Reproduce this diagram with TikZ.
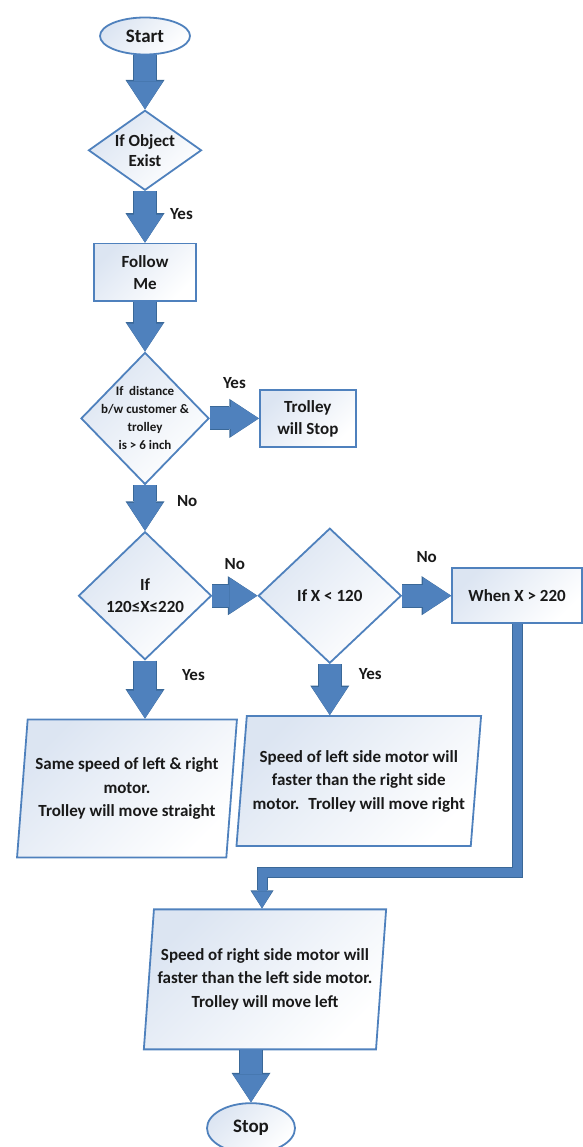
\documentclass[tikz,border=0pt]{standalone}
\usepackage{fontspec}
\setmainfont{Carlito}
\usetikzlibrary{arrows.meta,positioning,shapes.geometric}

\definecolor{edgeblue}{HTML}{4F81BD}
\definecolor{arrowblue}{HTML}{4F81BD}
\definecolor{arrowdark}{HTML}{3A6898}
\definecolor{shapefill}{HTML}{DCE5F2}

\begin{document}
\begin{tikzpicture}[
    x=1pt, y=-1pt,
    every node/.style={font=\fontsize{17}{22}\selectfont\bfseries, text=black!90},
    base/.style={draw=edgeblue, line width=1.8pt, top color=shapefill, bottom color=white, shading angle=45, align=center},
    term/.style={base, ellipse, inner sep=1pt, font=\fontsize{19}{22}\selectfont\bfseries},
    box/.style={base, rectangle, inner sep=2pt},
    decision/.style={base, diamond, inner sep=0pt},
    io/.style={base, trapezium, trapezium left angle=81, trapezium right angle=99, trapezium stretches=true, inner sep=0pt, font=\fontsize{17}{23.5}\selectfont\bfseries},
    dtext/.style={align=center, font=\fontsize{13}{18}\selectfont\bfseries},
    lbl/.style={inner sep=0pt},
    flow/.style={draw=arrowblue, line width=22pt, -{Triangle[length=28pt, width=36pt, line width=0pt]},
        preaction={draw=arrowdark, line width=24pt, -{Triangle[length=29.5pt, width=39pt, line width=0pt]}}},
    elbow/.style={draw=arrowblue, line width=9pt, -{Triangle[length=17pt, width=20pt, line width=0pt]},
        preaction={draw=arrowdark, line width=11pt, -{Triangle[length=18pt, width=23pt, line width=0pt]}}}
]
    \useasboundingbox (0,0) rectangle (582,1147);

    % Main column
    \node[term, minimum width=90pt, minimum height=37pt] (start) at (145,36) {Start};
    \node[decision, aspect=1.41, minimum width=113pt, minimum height=80pt, below=54pt of start,
        font=\fontsize{17}{20}\selectfont\bfseries] (obj) {If Object\\Exist};
    \node[box, minimum width=102pt, minimum height=57pt, below=51.5pt of obj] (follow) {Follow\\Me};
    \node[decision, minimum width=128pt, minimum height=132pt, below=50pt of follow,
        label={[dtext, name=disttext]center:If \ distance\\b/w customer \&\\trolley\\is > 6 inch}] (dist) {};
    \node[box, minimum width=96pt, minimum height=57pt, right=49pt of dist] (stopbox) {Trolley\\will Stop};

    % Range checks
    \node[decision, aspect=1.04, minimum width=133pt, minimum height=128pt, below=45.5pt of dist] (range) {If\\120≤X≤220};
    \node[decision, minimum width=143pt, minimum height=135pt, right=45pt of range] (less) {If X < 120};
    \node[box, minimum width=130pt, minimum height=55pt, right=49pt of less] (when) {When X > 220};

    % Motor actions
    \node[io, minimum width=220pt, minimum height=138pt, below=58pt of range, xshift=-18pt] (straight)
        {Same speed of left \& right\\motor.\\Trolley will move straight};
    \node[io, minimum width=245pt, minimum height=130pt, below=51pt of less, xshift=29pt] (right)
        {Speed of left side motor will\\faster than the right side\\motor. \ Trolley will move right};
    \node[io, minimum width=243pt, minimum height=140pt, below=50pt of straight, xshift=138pt] (left)
        {Speed of right side motor will\\faster than the left side motor.\\Trolley will move left};
    \node[term, minimum width=88pt, minimum height=50pt, below=52pt of left, xshift=-14pt] (stop) {Stop};

    \coordinate (drop) at (262,872);

    % Connectors
    \draw[flow] (start) -- (obj);
    \draw[flow] (obj) -- node[lbl, pos=0.45, right=14pt] (yes1) {Yes} (follow);
    \draw[flow] (follow) -- (dist);
    \draw[flow] (dist) -- node[lbl, above=19pt] (yes2) {Yes} (stopbox);
    \draw[flow] (dist) -- node[lbl, pos=0.35, right=21pt] (no1) {No} (range);
    \draw[flow] (range) -- node[lbl, above=15pt] (no2) {No} (less);
    \draw[flow] (less) -- node[lbl, above=22pt] (no3) {No} (when);
    \draw[flow] (range) -- node[lbl, pos=0.25, right=26pt] (yes3) {Yes} (range |- straight.north);
    \draw[flow] (less) -- node[lbl, pos=0.2, right=18pt] (yes4) {Yes} (less |- right.north);
    \draw[elbow] (when) |- (drop) -- (drop |- left.north);
    \draw[flow] (stop |- left.south) -- (stop);
\end{tikzpicture}
\end{document}
